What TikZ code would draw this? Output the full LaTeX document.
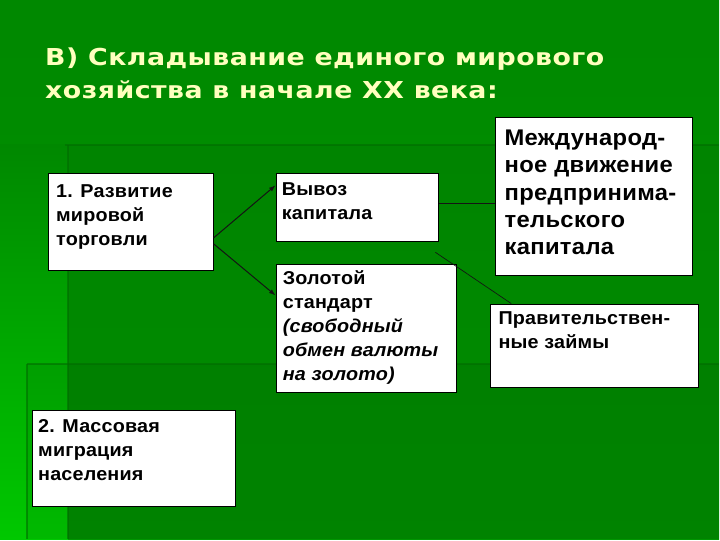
\documentclass[tikz,border=0pt]{standalone}
\usepackage{fontspec}
\usetikzlibrary{arrows.meta}
\setmainfont{Liberation Sans}
\newfontfamily\titlefont{DejaVu Sans}[FakeStretch=1.15,LetterSpace=2]
\newfontfamily\boxfont{Liberation Sans}[FakeStretch=1.06,LetterSpace=1]
\newfontfamily\bigboxfont{Liberation Sans}[FakeStretch=1.05,LetterSpace=1.5]
\definecolor{bgBase}{RGB}{0,136,0}
\definecolor{bgLow}{RGB}{0,150,0}
\definecolor{bgBright}{RGB}{0,200,0}
\definecolor{bgLine}{RGB}{0,108,0}
\definecolor{titleCream}{RGB}{255,255,190}

\begin{document}
\begin{tikzpicture}[x=0.75pt,y=0.75pt,yscale=-1,xscale=1,
  box/.style={draw=black, fill=white, line width=0.75pt, anchor=north west, inner sep=0pt},
  txt/.style={anchor=north west, inner sep=0pt, align=left, font=\boxfont\bfseries\fontsize{14}{18}\selectfont},
  link/.style={draw={rgb, 255:red, 20; green, 20; blue, 20 }, line width=0.75pt}]

%Shape: Background
\shade [top color=bgBase, bottom color=bgLow] (0,0) rectangle (720,540) ;
\shade [top color=bgBase, bottom color=bgBright] (0,145) rectangle (68,540) ;
\fill [black, fill opacity=0.07] (27,365) rectangle (720,540) ;
\fill [black, fill opacity=0.05] (68,145) rectangle (720,540) ;
%Straight Lines
\draw [bgLine, line width=1.5pt, opacity=0.6] (68,145) -- (68,540) ;
\draw [bgLine, line width=1.5pt, opacity=0.6] (65,145) -- (720,145) ;
\draw [bgLine, line width=1.5pt, opacity=0.6] (27,365) -- (720,365) ;
\draw [bgLine, line width=1.5pt, opacity=0.6] (27,365) -- (27,540) ;

% Text Node
\node (title) [anchor=north west, inner sep=0pt, align=left, text=titleCream,
  font=\titlefont\bfseries\fontsize{17.5}{24.75}\selectfont] at (45,48)
  {В) Складывание единого мирового\\хозяйства в начале XX века:};

%Shape: Rectangle
\node (trade) [box, minimum width=123.75pt, minimum height=72.75pt] at (48,173) {};
\node (capital) [box, minimum width=122.25pt, minimum height=51pt] at (276,173) {};
\node (gold) [box, minimum width=135.75pt, minimum height=96.75pt] at (276,264) {};
\node (intl) [box, minimum width=147.75pt, minimum height=118.5pt] at (496,117) {};
\node (loans) [box, minimum width=156pt, minimum height=63pt] at (491,304) {};
\node (migration) [box, minimum width=152.25pt, minimum height=72pt] at (32,411) {};

% Text Node
\node (tradeText) [txt] at (56,185) {1. Развитие\\мировой\\торговли};
\node (capitalText) [txt] at (282,183) {Вывоз\\капитала};
\node (goldText) [txt] at (283,271) {Золотой\\стандарт\\\itshape (свободный\\\itshape обмен валюты\\\itshape на золото)};
\node (intlText) [txt, font=\bigboxfont\bfseries\fontsize{17}{20.5}\selectfont] at (505,130)
  {Международ-\\ное движение\\предпринима-\\тельского\\капитала};
\node (loansText) [txt] at (499,312) {Правительствен-\\ные займы};
\node (migrationText) [txt] at (38,420) {2. Массовая\\миграция\\населения};

%Straight Lines
\draw [link, -{Latex[length=5pt,width=3.5pt]}] (trade.-11) -- (capital.165) ;
\draw [link, -{Latex[length=5pt,width=3.5pt]}] (trade.-15) -- (gold.160) ;
\draw [link] ([yshift=-3pt]capital.east) -- ([yshift=-3pt]capital.east -| intl.west) ;
\draw [link, line width=0.5pt] ([shift={(-3pt,8pt)}]capital.south east) -- ([xshift=15.75pt]loans.north west) ;

\end{tikzpicture}
\end{document}
